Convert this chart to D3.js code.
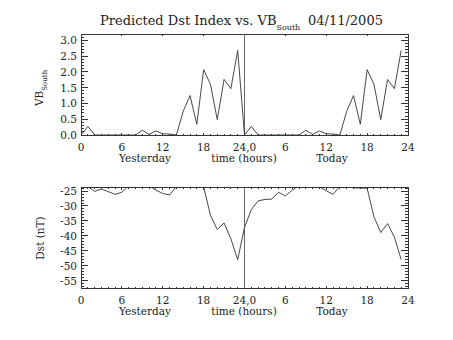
<!DOCTYPE html>
<html><head><meta charset="utf-8">
<script src="https://cdn.jsdelivr.net/npm/d3@7"></script>
<style>body{margin:0;background:#fff}svg{display:block}text{font-family:"DejaVu Serif",serif;fill:#222}</style>
</head><body><svg id="c" width="453" height="340"></svg>
<script>
// ---- data ----
const vbYesterday = [0, 0.27, 0, 0, 0, 0, 0, 0, 0, 0.15, 0.02, 0.13, 0.04, 0.03, 0, 0.75, 1.25, 0.34, 2.07, 1.61, 0.49, 1.76, 1.47, 2.68];
const vbToday     = [0, 0.27, 0, 0, 0, 0, 0, 0, 0, 0.15, 0.02, 0.13, 0.04, 0.03, 0, 0.75, 1.25, 0.34, 2.07, 1.61, 0.49, 1.76, 1.47, 2.68];
const dstYesterday = [-23.0, -23.5, -25.1, -24.3, -25.2, -26.1, -25.4, -23.2, -22.5, -22.8, -23.2, -24.7, -25.8, -26.3, -23.5, -22.5, -22.0, -22.6, -23.5, -33.1, -37.9, -35.7, -41.0, -48.0];
const dstToday     = [-37.2, -31.2, -28.3, -27.8, -27.7, -25.4, -26.6, -24.7, -23.2, -22.8, -23.0, -23.6, -24.9, -26.1, -23.3, -22.8, -23.9, -24.0, -24.0, -33.6, -38.9, -35.9, -40.4, -48.0];
const xTickValues = [0, 6, 12, 18, 24, 30, 36, 42, 48];
const xTickLabels = ["0", "6", "12", "18", "24,0", "6", "12", "18", "24"];
const vbTicks = [0.0, 0.5, 1.0, 1.5, 2.0, 2.5, 3.0];
const dstTicks = [-25, -30, -35, -40, -45, -50, -55];

const svg = d3.select("#c");
const L = 81, R = 408;
const INK = "#333";
const x = d3.scaleLinear().domain([0, 48]).range([L, R]);

function panel(top, bottom, domain, ticks, minorStep, fmt, yVals, clipId) {
  const y = d3.scaleLinear().domain(domain).range([bottom, top]);
  const g = svg.append("g");
  const h = bottom - top, w = R - L;
  const tlx = 0.02 * h, tly = 0.02 * w;
  svg.append("clipPath").attr("id", clipId).append("rect").attr("x", L).attr("y", top).attr("width", w).attr("height", h);
  g.append("rect").attr("x", L).attr("y", top).attr("width", w).attr("height", h)
    .attr("fill", "none").attr("stroke", INK).attr("stroke-width", 1).attr("shape-rendering", "crispEdges");
  const xMinor = d3.range(0, 49, 1);
  const tk = g.append("g").attr("stroke", INK).attr("stroke-width", 1).attr("shape-rendering", "crispEdges");
  xMinor.forEach(v => {
    const len = (v % 6 === 0) ? tlx : tlx / 2;
    tk.append("line").attr("x1", x(v)).attr("x2", x(v)).attr("y1", bottom).attr("y2", bottom - len);
    tk.append("line").attr("x1", x(v)).attr("x2", x(v)).attr("y1", top).attr("y2", top + len);
  });
  const yMinor = d3.range(Math.ceil(domain[0] / minorStep), Math.floor(domain[1] / minorStep) + 1).map(k => k * minorStep);
  yMinor.forEach(v => {
    const isMajor = ticks.some(t => Math.abs(t - v) < 1e-6);
    const len = isMajor ? tly : tly / 2;
    tk.append("line").attr("x1", L).attr("x2", L + len).attr("y1", y(v)).attr("y2", y(v));
    tk.append("line").attr("x1", R).attr("x2", R - len).attr("y1", y(v)).attr("y2", y(v));
  });
  g.selectAll(".xl").data(xTickValues).enter().append("text")
    .attr("x", d => x(d)).attr("y", bottom + 16).attr("text-anchor", "middle")
    .attr("font-size", 10.5).text((d, i) => xTickLabels[i]);
  g.selectAll(".yl").data(ticks).enter().append("text")
    .attr("x", L - 4).attr("y", d => y(d) + 4).attr("text-anchor", "end")
    .attr("font-size", 10.5).text(d => fmt(d));
  g.append("line").attr("x1", x(24)).attr("x2", x(24)).attr("y1", top).attr("y2", bottom)
    .attr("stroke", "#666").attr("stroke-width", 1).attr("shape-rendering", "crispEdges");
  const line = d3.line().x((d, i) => x(i)).y(d => y(d));
  g.append("path").datum(yVals).attr("d", line).attr("fill", "none").attr("stroke", INK)
    .attr("stroke-width", 0.9).attr("clip-path", `url(#${clipId})`);
  g.append("text").attr("x", 145).attr("y", bottom + 27).attr("text-anchor", "middle").attr("font-size", 10.5).text("Yesterday");
  g.append("text").attr("x", 244).attr("y", bottom + 27).attr("text-anchor", "middle").attr("font-size", 10.5).text("time (hours)");
  g.append("text").attr("x", 332).attr("y", bottom + 27).attr("text-anchor", "middle").attr("font-size", 10.5).text("Today");
  return y;
}

const vbAll = vbYesterday.concat(vbToday);
const dstAll = dstYesterday.concat(dstToday);

panel(34, 135, [0, 3.2], vbTicks, 0.1, d => d.toFixed(1), vbAll, "c1");
panel(187.5, 288, [-57.5, -23.8], dstTicks, 1, d => "-" + Math.abs(d), dstAll, "c2");

const t = svg.append("text").attr("x", 100).attr("y", 25).attr("font-size", 13);
t.append("tspan").text("Predicted Dst Index vs. VB");
t.append("tspan").attr("font-size", 8).attr("dy", 5).text("South");
svg.append("text").attr("x", 308).attr("y", 25).attr("font-size", 13).text("04/11/2005");

const yl1 = svg.append("text").attr("transform", "translate(43,106) rotate(-90)").attr("font-size", 10.5);
yl1.append("tspan").text("VB");
yl1.append("tspan").attr("font-size", 7).attr("dy", 4).text("South");
svg.append("text").attr("transform", "translate(44,238) rotate(-90)").attr("text-anchor", "middle").attr("font-size", 10.5).text("Dst (nT)");
</script></body></html>
